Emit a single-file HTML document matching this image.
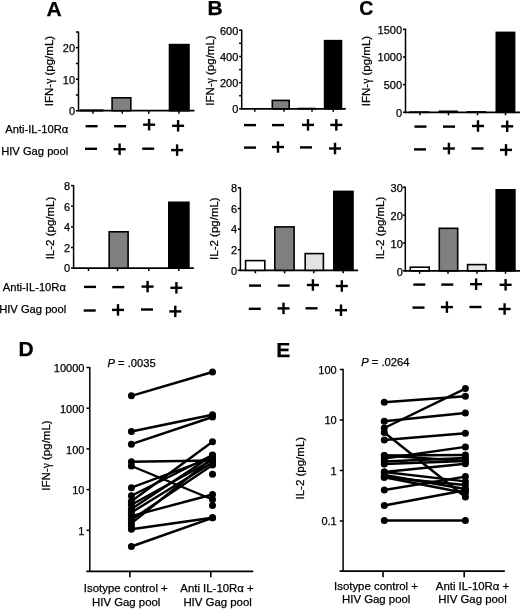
<!DOCTYPE html>
<html><head><meta charset="utf-8"><style>
html,body{margin:0;padding:0;background:#fff;}
svg{display:block;will-change:transform;}
text{font-family:"Liberation Sans", sans-serif;fill:#000;stroke:#000;stroke-width:0.25px;}
</style></head><body>
<svg width="520" height="609" viewBox="0 0 520 609">
<rect width="520" height="609" fill="#fff"/>
<text x="0" y="0" font-size="21" text-anchor="middle" font-weight="bold" transform="translate(54.1 15.8) scale(1.0 1)">A</text>
<text x="0" y="0" font-size="21" text-anchor="middle" font-weight="bold" transform="translate(215.2 14.6) scale(1.0 1)">B</text>
<text x="0" y="0" font-size="21" text-anchor="middle" font-weight="bold" transform="translate(366.4 15.4) scale(0.93 1)">C</text>
<text x="0" y="0" font-size="21" text-anchor="middle" font-weight="bold" transform="translate(26.2 355.6) scale(1.0 1)">D</text>
<text x="0" y="0" font-size="21" text-anchor="middle" font-weight="bold" transform="translate(283.2 356.7) scale(1.0 1)">E</text>
<line x1="78.5" y1="31.5" x2="78.5" y2="111.5" stroke="#000" stroke-width="1.5"/>
<line x1="77.75" y1="110.7" x2="194.5" y2="110.7" stroke="#000" stroke-width="1.8"/>
<line x1="75.9" y1="110.7" x2="78.5" y2="110.7" stroke="#000" stroke-width="1.5"/>
<text x="75.1" y="115.0" font-size="11" text-anchor="end">0</text>
<line x1="75.9" y1="79.2" x2="78.5" y2="79.2" stroke="#000" stroke-width="1.5"/>
<text x="75.1" y="83.5" font-size="11" text-anchor="end">10</text>
<line x1="75.9" y1="47.7" x2="78.5" y2="47.7" stroke="#000" stroke-width="1.5"/>
<text x="75.1" y="52.0" font-size="11" text-anchor="end">20</text>
<line x1="75.9" y1="95.0" x2="78.5" y2="95.0" stroke="#000" stroke-width="1.5"/>
<line x1="75.9" y1="63.5" x2="78.5" y2="63.5" stroke="#000" stroke-width="1.5"/>
<line x1="75.9" y1="32.0" x2="78.5" y2="32.0" stroke="#000" stroke-width="1.5"/>
<line x1="92.9" y1="110.7" x2="92.9" y2="113.7" stroke="#000" stroke-width="1.5"/>
<line x1="122.3" y1="110.7" x2="122.3" y2="113.7" stroke="#000" stroke-width="1.5"/>
<line x1="148.8" y1="110.7" x2="148.8" y2="113.7" stroke="#000" stroke-width="1.5"/>
<line x1="178.9" y1="110.7" x2="178.9" y2="113.7" stroke="#000" stroke-width="1.5"/>
<rect x="80.80" y="110.20" width="21.90" height="0.50" fill="#fff" stroke="#000" stroke-width="1.6"/>
<rect x="112.10" y="97.80" width="18.70" height="12.90" fill="#808080" stroke="#000" stroke-width="1.6"/>
<rect x="169.50" y="44.60" width="19.50" height="66.10" fill="#000" stroke="#000" stroke-width="1.6"/>
<text x="53.2" y="71.0" font-size="11.5" text-anchor="middle" transform="rotate(-90 53.2 71.0)">IFN-<tspan style="font-family:Liberation Serif">&#947;</tspan> (pg/mL)</text>
<line x1="241.7" y1="29.5" x2="241.7" y2="109.6" stroke="#000" stroke-width="1.5"/>
<line x1="240.95" y1="108.8" x2="345.8" y2="108.8" stroke="#000" stroke-width="1.8"/>
<line x1="239.1" y1="108.8" x2="241.7" y2="108.8" stroke="#000" stroke-width="1.5"/>
<text x="238.29999999999998" y="113.1" font-size="11" text-anchor="end">0</text>
<line x1="239.1" y1="82.7" x2="241.7" y2="82.7" stroke="#000" stroke-width="1.5"/>
<text x="238.29999999999998" y="87.0" font-size="11" text-anchor="end">200</text>
<line x1="239.1" y1="56.5" x2="241.7" y2="56.5" stroke="#000" stroke-width="1.5"/>
<text x="238.29999999999998" y="60.8" font-size="11" text-anchor="end">400</text>
<line x1="239.1" y1="30.2" x2="241.7" y2="30.2" stroke="#000" stroke-width="1.5"/>
<text x="238.29999999999998" y="34.5" font-size="11" text-anchor="end">600</text>
<line x1="239.1" y1="95.7" x2="241.7" y2="95.7" stroke="#000" stroke-width="1.5"/>
<line x1="239.1" y1="69.6" x2="241.7" y2="69.6" stroke="#000" stroke-width="1.5"/>
<line x1="239.1" y1="43.3" x2="241.7" y2="43.3" stroke="#000" stroke-width="1.5"/>
<line x1="254.8" y1="108.8" x2="254.8" y2="111.8" stroke="#000" stroke-width="1.5"/>
<line x1="284" y1="108.8" x2="284" y2="111.8" stroke="#000" stroke-width="1.5"/>
<line x1="312" y1="108.8" x2="312" y2="111.8" stroke="#000" stroke-width="1.5"/>
<line x1="333.3" y1="108.8" x2="333.3" y2="111.8" stroke="#000" stroke-width="1.5"/>
<rect x="272.30" y="100.40" width="16.90" height="8.40" fill="#808080" stroke="#000" stroke-width="1.6"/>
<rect x="298.80" y="108.50" width="16.40" height="0.30" fill="#fff" stroke="#000" stroke-width="1.6"/>
<rect x="324.60" y="40.65" width="16.90" height="68.15" fill="#000" stroke="#000" stroke-width="1.6"/>
<text x="214.3" y="70.5" font-size="11.5" text-anchor="middle" transform="rotate(-90 214.3 70.5)">IFN-<tspan style="font-family:Liberation Serif">&#947;</tspan> (pg/mL)</text>
<line x1="405.5" y1="28.8" x2="405.5" y2="113.1" stroke="#000" stroke-width="1.5"/>
<line x1="404.75" y1="112.3" x2="520" y2="112.3" stroke="#000" stroke-width="1.8"/>
<line x1="402.9" y1="112.3" x2="405.5" y2="112.3" stroke="#000" stroke-width="1.5"/>
<text x="402.1" y="116.6" font-size="11" text-anchor="end">0</text>
<line x1="402.9" y1="84.6" x2="405.5" y2="84.6" stroke="#000" stroke-width="1.5"/>
<text x="402.1" y="88.89999999999999" font-size="11" text-anchor="end">500</text>
<line x1="402.9" y1="57.0" x2="405.5" y2="57.0" stroke="#000" stroke-width="1.5"/>
<text x="402.1" y="61.3" font-size="11" text-anchor="end">1000</text>
<line x1="402.9" y1="29.3" x2="405.5" y2="29.3" stroke="#000" stroke-width="1.5"/>
<text x="402.1" y="33.6" font-size="11" text-anchor="end">1500</text>
<line x1="419.9" y1="112.3" x2="419.9" y2="115.3" stroke="#000" stroke-width="1.5"/>
<line x1="448.5" y1="112.3" x2="448.5" y2="115.3" stroke="#000" stroke-width="1.5"/>
<line x1="477.5" y1="112.3" x2="477.5" y2="115.3" stroke="#000" stroke-width="1.5"/>
<line x1="505.5" y1="112.3" x2="505.5" y2="115.3" stroke="#000" stroke-width="1.5"/>
<rect x="410.30" y="112.10" width="18.40" height="0.20" fill="#fff" stroke="#000" stroke-width="1.6"/>
<rect x="439.30" y="111.30" width="17.90" height="1.00" fill="#fff" stroke="#000" stroke-width="1.6"/>
<rect x="467.30" y="111.90" width="17.90" height="0.40" fill="#fff" stroke="#000" stroke-width="1.6"/>
<rect x="496.30" y="32.40" width="18.30" height="79.90" fill="#000" stroke="#000" stroke-width="1.6"/>
<text x="369.9" y="71" font-size="11.5" text-anchor="middle" transform="rotate(-90 369.9 71)">IFN-<tspan style="font-family:Liberation Serif">&#947;</tspan> (pg/mL)</text>
<line x1="73.6" y1="185.3" x2="73.6" y2="268.90000000000003" stroke="#000" stroke-width="1.5"/>
<line x1="72.85" y1="268.1" x2="193.8" y2="268.1" stroke="#000" stroke-width="1.8"/>
<line x1="71.0" y1="268.1" x2="73.6" y2="268.1" stroke="#000" stroke-width="1.5"/>
<text x="70.19999999999999" y="272.40000000000003" font-size="11" text-anchor="end">0</text>
<line x1="71.0" y1="247.5" x2="73.6" y2="247.5" stroke="#000" stroke-width="1.5"/>
<text x="70.19999999999999" y="251.8" font-size="11" text-anchor="end">2</text>
<line x1="71.0" y1="226.9" x2="73.6" y2="226.9" stroke="#000" stroke-width="1.5"/>
<text x="70.19999999999999" y="231.20000000000002" font-size="11" text-anchor="end">4</text>
<line x1="71.0" y1="206.2" x2="73.6" y2="206.2" stroke="#000" stroke-width="1.5"/>
<text x="70.19999999999999" y="210.5" font-size="11" text-anchor="end">6</text>
<line x1="71.0" y1="185.6" x2="73.6" y2="185.6" stroke="#000" stroke-width="1.5"/>
<text x="70.19999999999999" y="189.9" font-size="11" text-anchor="end">8</text>
<line x1="88.5" y1="268.1" x2="88.5" y2="271.1" stroke="#000" stroke-width="1.5"/>
<line x1="117.5" y1="268.1" x2="117.5" y2="271.1" stroke="#000" stroke-width="1.5"/>
<line x1="148.8" y1="268.1" x2="148.8" y2="271.1" stroke="#000" stroke-width="1.5"/>
<line x1="178.8" y1="268.1" x2="178.8" y2="271.1" stroke="#000" stroke-width="1.5"/>
<rect x="109.20" y="231.80" width="18.90" height="36.30" fill="#808080" stroke="#000" stroke-width="1.6"/>
<rect x="168.80" y="202.30" width="20.10" height="65.80" fill="#000" stroke="#000" stroke-width="1.6"/>
<text x="54.3" y="228" font-size="11.5" text-anchor="middle" transform="rotate(-90 54.3 228)">IL-2 (pg/mL)</text>
<line x1="240.4" y1="187.3" x2="240.4" y2="271.1" stroke="#000" stroke-width="1.5"/>
<line x1="239.65" y1="270.3" x2="358.0" y2="270.3" stroke="#000" stroke-width="1.8"/>
<line x1="237.8" y1="270.3" x2="240.4" y2="270.3" stroke="#000" stroke-width="1.5"/>
<text x="237.0" y="274.6" font-size="11" text-anchor="end">0</text>
<line x1="237.8" y1="249.7" x2="240.4" y2="249.7" stroke="#000" stroke-width="1.5"/>
<text x="237.0" y="254.0" font-size="11" text-anchor="end">2</text>
<line x1="237.8" y1="229.1" x2="240.4" y2="229.1" stroke="#000" stroke-width="1.5"/>
<text x="237.0" y="233.4" font-size="11" text-anchor="end">4</text>
<line x1="237.8" y1="208.5" x2="240.4" y2="208.5" stroke="#000" stroke-width="1.5"/>
<text x="237.0" y="212.8" font-size="11" text-anchor="end">6</text>
<line x1="237.8" y1="187.8" x2="240.4" y2="187.8" stroke="#000" stroke-width="1.5"/>
<text x="237.0" y="192.10000000000002" font-size="11" text-anchor="end">8</text>
<line x1="255.4" y1="270.3" x2="255.4" y2="273.3" stroke="#000" stroke-width="1.5"/>
<line x1="284.6" y1="270.3" x2="284.6" y2="273.3" stroke="#000" stroke-width="1.5"/>
<line x1="313.8" y1="270.3" x2="313.8" y2="273.3" stroke="#000" stroke-width="1.5"/>
<line x1="343.2" y1="270.3" x2="343.2" y2="273.3" stroke="#000" stroke-width="1.5"/>
<rect x="245.60" y="260.60" width="19.20" height="9.70" fill="#fff" stroke="#000" stroke-width="1.6"/>
<rect x="274.80" y="226.90" width="19.30" height="43.40" fill="#808080" stroke="#000" stroke-width="1.6"/>
<rect x="305.20" y="253.60" width="18.20" height="16.70" fill="#e4e4e4" stroke="#000" stroke-width="1.6"/>
<rect x="333.80" y="191.40" width="19.20" height="78.90" fill="#000" stroke="#000" stroke-width="1.6"/>
<text x="218.0" y="228.6" font-size="11.5" text-anchor="middle" transform="rotate(-90 218.0 228.6)">IL-2 (pg/mL)</text>
<line x1="405.3" y1="186.5" x2="405.3" y2="271.6" stroke="#000" stroke-width="1.5"/>
<line x1="404.55" y1="270.8" x2="520" y2="270.8" stroke="#000" stroke-width="1.8"/>
<line x1="402.7" y1="270.8" x2="405.3" y2="270.8" stroke="#000" stroke-width="1.5"/>
<text x="402.8" y="275.5" font-size="11" text-anchor="end">0</text>
<line x1="402.7" y1="243" x2="405.3" y2="243" stroke="#000" stroke-width="1.5"/>
<text x="402.8" y="247.70000000000002" font-size="11" text-anchor="end">10</text>
<line x1="402.7" y1="215.1" x2="405.3" y2="215.1" stroke="#000" stroke-width="1.5"/>
<text x="402.8" y="219.8" font-size="11" text-anchor="end">20</text>
<line x1="402.7" y1="187.3" x2="405.3" y2="187.3" stroke="#000" stroke-width="1.5"/>
<text x="402.8" y="192.00000000000003" font-size="11" text-anchor="end">30</text>
<line x1="419.6" y1="270.8" x2="419.6" y2="273.8" stroke="#000" stroke-width="1.5"/>
<line x1="448" y1="270.8" x2="448" y2="273.8" stroke="#000" stroke-width="1.5"/>
<line x1="477" y1="270.8" x2="477" y2="273.8" stroke="#000" stroke-width="1.5"/>
<line x1="505.5" y1="270.8" x2="505.5" y2="273.8" stroke="#000" stroke-width="1.5"/>
<rect x="410.30" y="267.20" width="18.90" height="3.60" fill="#fff" stroke="#000" stroke-width="1.6"/>
<rect x="439.30" y="228.30" width="18.40" height="42.50" fill="#808080" stroke="#000" stroke-width="1.6"/>
<rect x="467.60" y="264.60" width="18.40" height="6.20" fill="#e4e4e4" stroke="#000" stroke-width="1.6"/>
<rect x="496.20" y="189.80" width="18.70" height="81.00" fill="#000" stroke="#000" stroke-width="1.6"/>
<text x="383.7" y="228.0" font-size="11.5" text-anchor="middle" transform="rotate(-90 383.7 228.0)">IL-2 (pg/mL)</text>
<rect x="85.60" y="125.00" width="12" height="2.4" fill="#000"/>
<rect x="114.10" y="125.00" width="12" height="2.4" fill="#000"/>
<rect x="143.10" y="123.50" width="12" height="2.4" fill="#000"/>
<rect x="147.90" y="118.95" width="2.4" height="11.5" fill="#000"/>
<rect x="172.10" y="124.60" width="12" height="2.4" fill="#000"/>
<rect x="176.90" y="120.05" width="2.4" height="11.5" fill="#000"/>
<rect x="85.00" y="147.60" width="12" height="2.4" fill="#000"/>
<rect x="113.60" y="148.00" width="12" height="2.4" fill="#000"/>
<rect x="118.40" y="143.45" width="2.4" height="11.5" fill="#000"/>
<rect x="142.20" y="147.50" width="12" height="2.4" fill="#000"/>
<rect x="171.10" y="148.90" width="12" height="2.4" fill="#000"/>
<rect x="175.90" y="144.35" width="2.4" height="11.5" fill="#000"/>
<rect x="244.00" y="123.90" width="12" height="2.4" fill="#000"/>
<rect x="272.00" y="123.90" width="12" height="2.4" fill="#000"/>
<rect x="302.00" y="123.70" width="12" height="2.4" fill="#000"/>
<rect x="306.80" y="119.15" width="2.4" height="11.5" fill="#000"/>
<rect x="330.30" y="123.70" width="12" height="2.4" fill="#000"/>
<rect x="335.10" y="119.15" width="2.4" height="11.5" fill="#000"/>
<rect x="244.00" y="146.40" width="12" height="2.4" fill="#000"/>
<rect x="272.00" y="145.80" width="12" height="2.4" fill="#000"/>
<rect x="276.80" y="141.25" width="2.4" height="11.5" fill="#000"/>
<rect x="300.00" y="146.20" width="12" height="2.4" fill="#000"/>
<rect x="329.00" y="147.30" width="12" height="2.4" fill="#000"/>
<rect x="333.80" y="142.75" width="2.4" height="11.5" fill="#000"/>
<rect x="414.50" y="125.40" width="12" height="2.4" fill="#000"/>
<rect x="443.00" y="125.40" width="12" height="2.4" fill="#000"/>
<rect x="472.00" y="124.80" width="12" height="2.4" fill="#000"/>
<rect x="476.80" y="120.25" width="2.4" height="11.5" fill="#000"/>
<rect x="501.20" y="125.10" width="12" height="2.4" fill="#000"/>
<rect x="506.00" y="120.55" width="2.4" height="11.5" fill="#000"/>
<rect x="414.00" y="148.20" width="12" height="2.4" fill="#000"/>
<rect x="442.90" y="147.30" width="12" height="2.4" fill="#000"/>
<rect x="447.70" y="142.75" width="2.4" height="11.5" fill="#000"/>
<rect x="471.50" y="147.30" width="12" height="2.4" fill="#000"/>
<rect x="500.00" y="148.70" width="12" height="2.4" fill="#000"/>
<rect x="504.80" y="144.15" width="2.4" height="11.5" fill="#000"/>
<rect x="84.00" y="285.70" width="12" height="2.4" fill="#000"/>
<rect x="112.30" y="285.90" width="12" height="2.4" fill="#000"/>
<rect x="141.60" y="285.40" width="12" height="2.4" fill="#000"/>
<rect x="146.40" y="280.85" width="2.4" height="11.5" fill="#000"/>
<rect x="170.40" y="286.60" width="12" height="2.4" fill="#000"/>
<rect x="175.20" y="282.05" width="2.4" height="11.5" fill="#000"/>
<rect x="83.70" y="309.30" width="12" height="2.4" fill="#000"/>
<rect x="112.00" y="308.70" width="12" height="2.4" fill="#000"/>
<rect x="116.80" y="304.15" width="2.4" height="11.5" fill="#000"/>
<rect x="141.00" y="308.30" width="12" height="2.4" fill="#000"/>
<rect x="169.30" y="310.20" width="12" height="2.4" fill="#000"/>
<rect x="174.10" y="305.65" width="2.4" height="11.5" fill="#000"/>
<rect x="249.00" y="284.40" width="12" height="2.4" fill="#000"/>
<rect x="277.80" y="284.40" width="12" height="2.4" fill="#000"/>
<rect x="306.90" y="283.80" width="12" height="2.4" fill="#000"/>
<rect x="311.70" y="279.25" width="2.4" height="11.5" fill="#000"/>
<rect x="335.80" y="284.80" width="12" height="2.4" fill="#000"/>
<rect x="340.60" y="280.25" width="2.4" height="11.5" fill="#000"/>
<rect x="248.80" y="307.60" width="12" height="2.4" fill="#000"/>
<rect x="277.50" y="307.20" width="12" height="2.4" fill="#000"/>
<rect x="282.30" y="302.65" width="2.4" height="11.5" fill="#000"/>
<rect x="305.50" y="307.10" width="12" height="2.4" fill="#000"/>
<rect x="335.00" y="309.00" width="12" height="2.4" fill="#000"/>
<rect x="339.80" y="304.45" width="2.4" height="11.5" fill="#000"/>
<rect x="413.30" y="283.40" width="12" height="2.4" fill="#000"/>
<rect x="441.30" y="283.40" width="12" height="2.4" fill="#000"/>
<rect x="470.10" y="283.00" width="12" height="2.4" fill="#000"/>
<rect x="474.90" y="278.45" width="2.4" height="11.5" fill="#000"/>
<rect x="499.60" y="283.60" width="12" height="2.4" fill="#000"/>
<rect x="504.40" y="279.05" width="2.4" height="11.5" fill="#000"/>
<rect x="412.50" y="306.40" width="12" height="2.4" fill="#000"/>
<rect x="440.90" y="305.90" width="12" height="2.4" fill="#000"/>
<rect x="445.70" y="301.35" width="2.4" height="11.5" fill="#000"/>
<rect x="469.50" y="305.80" width="12" height="2.4" fill="#000"/>
<rect x="498.60" y="307.80" width="12" height="2.4" fill="#000"/>
<rect x="503.40" y="303.25" width="2.4" height="11.5" fill="#000"/>
<text x="68.3" y="133.4" font-size="11.2" text-anchor="end">Anti-IL-10R&#945;</text>
<text x="68.3" y="154.6" font-size="11.2" text-anchor="end">HIV Gag pool</text>
<text x="65.9" y="291.4" font-size="11.2" text-anchor="end">Anti-IL-10R&#945;</text>
<text x="66.3" y="313.4" font-size="11.2" text-anchor="end">HIV Gag pool</text>
<line x1="89.8" y1="367" x2="89.8" y2="572.0999999999999" stroke="#000" stroke-width="1.5"/>
<line x1="86.3" y1="571.3" x2="253.2" y2="571.3" stroke="#000" stroke-width="1.8"/>
<line x1="86.5" y1="367.5" x2="89.8" y2="367.5" stroke="#000" stroke-width="1.5"/>
<text x="84.39999999999999" y="372.2" font-size="11" text-anchor="end">10000</text>
<line x1="86.5" y1="408.2" x2="89.8" y2="408.2" stroke="#000" stroke-width="1.5"/>
<text x="84.39999999999999" y="412.9" font-size="11" text-anchor="end">1000</text>
<line x1="86.5" y1="448.9" x2="89.8" y2="448.9" stroke="#000" stroke-width="1.5"/>
<text x="84.39999999999999" y="453.59999999999997" font-size="11" text-anchor="end">100</text>
<line x1="86.5" y1="489.6" x2="89.8" y2="489.6" stroke="#000" stroke-width="1.5"/>
<text x="84.39999999999999" y="494.3" font-size="11" text-anchor="end">10</text>
<line x1="86.5" y1="530.3" x2="89.8" y2="530.3" stroke="#000" stroke-width="1.5"/>
<text x="84.39999999999999" y="535.0" font-size="11" text-anchor="end">1</text>
<line x1="129.9" y1="571.3" x2="129.9" y2="577.3" stroke="#000" stroke-width="1.6"/>
<line x1="210.8" y1="571.3" x2="210.8" y2="577.3" stroke="#000" stroke-width="1.6"/>
<line x1="131.4" y1="395.8" x2="212.5" y2="372" stroke="#000" stroke-width="2.4"/>
<line x1="131.4" y1="431.5" x2="212.5" y2="414.7" stroke="#000" stroke-width="2.4"/>
<line x1="131.4" y1="444.2" x2="212.5" y2="417" stroke="#000" stroke-width="2.4"/>
<line x1="131.4" y1="461.8" x2="212.5" y2="460.5" stroke="#000" stroke-width="2.4"/>
<line x1="131.4" y1="466" x2="212.5" y2="499.5" stroke="#000" stroke-width="2.4"/>
<line x1="131.4" y1="487.7" x2="212.5" y2="457.5" stroke="#000" stroke-width="2.4"/>
<line x1="131.4" y1="495.8" x2="212.5" y2="455" stroke="#000" stroke-width="2.4"/>
<line x1="131.4" y1="501.2" x2="212.5" y2="441.8" stroke="#000" stroke-width="2.4"/>
<line x1="131.4" y1="504.8" x2="212.5" y2="460" stroke="#000" stroke-width="2.4"/>
<line x1="131.4" y1="508.9" x2="212.5" y2="455.5" stroke="#000" stroke-width="2.4"/>
<line x1="131.4" y1="512.5" x2="212.5" y2="462.5" stroke="#000" stroke-width="2.4"/>
<line x1="131.4" y1="516.1" x2="212.5" y2="494.5" stroke="#000" stroke-width="2.4"/>
<line x1="131.4" y1="519.7" x2="212.5" y2="465" stroke="#000" stroke-width="2.4"/>
<line x1="131.4" y1="523.4" x2="212.5" y2="458" stroke="#000" stroke-width="2.4"/>
<line x1="131.4" y1="529.2" x2="212.5" y2="517.8" stroke="#000" stroke-width="2.4"/>
<line x1="131.4" y1="546.5" x2="212.5" y2="517.8" stroke="#000" stroke-width="2.4"/>
<circle cx="212.5" cy="474.2" r="3.5" fill="#000"/>
<circle cx="212.5" cy="505.5" r="3.5" fill="#000"/>
<circle cx="131.4" cy="526.5" r="3.5" fill="#000"/>
<circle cx="131.4" cy="395.8" r="3.5" fill="#000"/>
<circle cx="212.5" cy="372" r="3.5" fill="#000"/>
<circle cx="131.4" cy="431.5" r="3.5" fill="#000"/>
<circle cx="212.5" cy="414.7" r="3.5" fill="#000"/>
<circle cx="131.4" cy="444.2" r="3.5" fill="#000"/>
<circle cx="212.5" cy="417" r="3.5" fill="#000"/>
<circle cx="131.4" cy="461.8" r="3.5" fill="#000"/>
<circle cx="212.5" cy="460.5" r="3.5" fill="#000"/>
<circle cx="131.4" cy="466" r="3.5" fill="#000"/>
<circle cx="212.5" cy="499.5" r="3.5" fill="#000"/>
<circle cx="131.4" cy="487.7" r="3.5" fill="#000"/>
<circle cx="212.5" cy="457.5" r="3.5" fill="#000"/>
<circle cx="131.4" cy="495.8" r="3.5" fill="#000"/>
<circle cx="212.5" cy="455" r="3.5" fill="#000"/>
<circle cx="131.4" cy="501.2" r="3.5" fill="#000"/>
<circle cx="212.5" cy="441.8" r="3.5" fill="#000"/>
<circle cx="131.4" cy="504.8" r="3.5" fill="#000"/>
<circle cx="212.5" cy="460" r="3.5" fill="#000"/>
<circle cx="131.4" cy="508.9" r="3.5" fill="#000"/>
<circle cx="212.5" cy="455.5" r="3.5" fill="#000"/>
<circle cx="131.4" cy="512.5" r="3.5" fill="#000"/>
<circle cx="212.5" cy="462.5" r="3.5" fill="#000"/>
<circle cx="131.4" cy="516.1" r="3.5" fill="#000"/>
<circle cx="212.5" cy="494.5" r="3.5" fill="#000"/>
<circle cx="131.4" cy="519.7" r="3.5" fill="#000"/>
<circle cx="212.5" cy="465" r="3.5" fill="#000"/>
<circle cx="131.4" cy="523.4" r="3.5" fill="#000"/>
<circle cx="212.5" cy="458" r="3.5" fill="#000"/>
<circle cx="131.4" cy="529.2" r="3.5" fill="#000"/>
<circle cx="212.5" cy="517.8" r="3.5" fill="#000"/>
<circle cx="131.4" cy="546.5" r="3.5" fill="#000"/>
<circle cx="212.5" cy="517.8" r="3.5" fill="#000"/>
<text x="50.0" y="455.5" font-size="11.5" text-anchor="middle" transform="rotate(-90 50.0 455.5)">IFN-<tspan style="font-family:Liberation Serif">&#947;</tspan> (pg/mL)</text>
<text x="107.5" y="366.5" font-size="11.2"><tspan font-style="italic">P</tspan> = .0035</text>
<text x="125.8" y="592" font-size="11.4" text-anchor="middle">Isotype control +</text>
<text x="126.2" y="605.8" font-size="11.4" text-anchor="middle">HIV Gag pool</text>
<text x="217" y="592" font-size="11.4" text-anchor="middle">Anti IL-10R&#945; +</text>
<text x="217.6" y="605.8" font-size="11.4" text-anchor="middle">HIV Gag pool</text>
<line x1="343.1" y1="368.8" x2="343.1" y2="572.0" stroke="#000" stroke-width="1.5"/>
<line x1="339.6" y1="571.2" x2="504.8" y2="571.2" stroke="#000" stroke-width="1.8"/>
<line x1="339.8" y1="369.5" x2="343.1" y2="369.5" stroke="#000" stroke-width="1.5"/>
<text x="336.70000000000005" y="373.7" font-size="11" text-anchor="end">100</text>
<line x1="339.8" y1="420" x2="343.1" y2="420" stroke="#000" stroke-width="1.5"/>
<text x="336.70000000000005" y="424.2" font-size="11" text-anchor="end">10</text>
<line x1="339.8" y1="470.5" x2="343.1" y2="470.5" stroke="#000" stroke-width="1.5"/>
<text x="336.70000000000005" y="474.7" font-size="11" text-anchor="end">1</text>
<line x1="339.8" y1="521" x2="343.1" y2="521" stroke="#000" stroke-width="1.5"/>
<text x="336.70000000000005" y="525.2" font-size="11" text-anchor="end">0.1</text>
<line x1="383.0" y1="571.2" x2="383.0" y2="577.2" stroke="#000" stroke-width="1.6"/>
<line x1="464.2" y1="571.2" x2="464.2" y2="577.2" stroke="#000" stroke-width="1.6"/>
<line x1="384.3" y1="402.2" x2="465.4" y2="396.2" stroke="#000" stroke-width="2.4"/>
<line x1="384.3" y1="421.2" x2="465.4" y2="413" stroke="#000" stroke-width="2.4"/>
<line x1="384.3" y1="428" x2="465.4" y2="388.6" stroke="#000" stroke-width="2.4"/>
<line x1="384.3" y1="432.5" x2="465.4" y2="497" stroke="#000" stroke-width="2.4"/>
<line x1="384.3" y1="440" x2="465.4" y2="433.3" stroke="#000" stroke-width="2.4"/>
<line x1="384.3" y1="458.5" x2="465.4" y2="446.9" stroke="#000" stroke-width="2.4"/>
<line x1="384.3" y1="455.5" x2="465.4" y2="455" stroke="#000" stroke-width="2.4"/>
<line x1="384.3" y1="461.5" x2="465.4" y2="458" stroke="#000" stroke-width="2.4"/>
<line x1="384.3" y1="464" x2="465.4" y2="461" stroke="#000" stroke-width="2.4"/>
<line x1="384.3" y1="472" x2="465.4" y2="463.7" stroke="#000" stroke-width="2.4"/>
<line x1="384.3" y1="472" x2="465.4" y2="481.4" stroke="#000" stroke-width="2.4"/>
<line x1="384.3" y1="477.3" x2="465.4" y2="485" stroke="#000" stroke-width="2.4"/>
<line x1="384.3" y1="490" x2="465.4" y2="476.6" stroke="#000" stroke-width="2.4"/>
<line x1="384.3" y1="505.5" x2="465.4" y2="490.2" stroke="#000" stroke-width="2.4"/>
<line x1="384.3" y1="520.5" x2="465.4" y2="520.5" stroke="#000" stroke-width="2.4"/>
<line x1="384.3" y1="475" x2="465.4" y2="489" stroke="#000" stroke-width="2.4"/>
<line x1="384.3" y1="477.3" x2="465.4" y2="493" stroke="#000" stroke-width="2.4"/>
<line x1="384.3" y1="455.5" x2="465.4" y2="461" stroke="#000" stroke-width="2.4"/>
<circle cx="384.3" cy="402.2" r="3.5" fill="#000"/>
<circle cx="465.4" cy="396.2" r="3.5" fill="#000"/>
<circle cx="384.3" cy="421.2" r="3.5" fill="#000"/>
<circle cx="465.4" cy="413" r="3.5" fill="#000"/>
<circle cx="384.3" cy="428" r="3.5" fill="#000"/>
<circle cx="465.4" cy="388.6" r="3.5" fill="#000"/>
<circle cx="384.3" cy="432.5" r="3.5" fill="#000"/>
<circle cx="465.4" cy="497" r="3.5" fill="#000"/>
<circle cx="384.3" cy="440" r="3.5" fill="#000"/>
<circle cx="465.4" cy="433.3" r="3.5" fill="#000"/>
<circle cx="384.3" cy="458.5" r="3.5" fill="#000"/>
<circle cx="465.4" cy="446.9" r="3.5" fill="#000"/>
<circle cx="384.3" cy="455.5" r="3.5" fill="#000"/>
<circle cx="465.4" cy="455" r="3.5" fill="#000"/>
<circle cx="384.3" cy="461.5" r="3.5" fill="#000"/>
<circle cx="465.4" cy="458" r="3.5" fill="#000"/>
<circle cx="384.3" cy="464" r="3.5" fill="#000"/>
<circle cx="465.4" cy="461" r="3.5" fill="#000"/>
<circle cx="384.3" cy="472" r="3.5" fill="#000"/>
<circle cx="465.4" cy="463.7" r="3.5" fill="#000"/>
<circle cx="384.3" cy="472" r="3.5" fill="#000"/>
<circle cx="465.4" cy="481.4" r="3.5" fill="#000"/>
<circle cx="384.3" cy="477.3" r="3.5" fill="#000"/>
<circle cx="465.4" cy="485" r="3.5" fill="#000"/>
<circle cx="384.3" cy="490" r="3.5" fill="#000"/>
<circle cx="465.4" cy="476.6" r="3.5" fill="#000"/>
<circle cx="384.3" cy="505.5" r="3.5" fill="#000"/>
<circle cx="465.4" cy="490.2" r="3.5" fill="#000"/>
<circle cx="384.3" cy="520.5" r="3.5" fill="#000"/>
<circle cx="465.4" cy="520.5" r="3.5" fill="#000"/>
<circle cx="384.3" cy="475" r="3.5" fill="#000"/>
<circle cx="465.4" cy="489" r="3.5" fill="#000"/>
<circle cx="384.3" cy="477.3" r="3.5" fill="#000"/>
<circle cx="465.4" cy="493" r="3.5" fill="#000"/>
<circle cx="384.3" cy="455.5" r="3.5" fill="#000"/>
<circle cx="465.4" cy="461" r="3.5" fill="#000"/>
<text x="304.5" y="468.2" font-size="11.5" text-anchor="middle" transform="rotate(-90 304.5 468.2)">IL-2 (pg/mL)</text>
<text x="361.3" y="366" font-size="11.2"><tspan font-style="italic">P</tspan> = .0264</text>
<text x="376" y="590" font-size="11.4" text-anchor="middle">Isotype control +</text>
<text x="376.2" y="602.8" font-size="11.4" text-anchor="middle">HIV Gag pool</text>
<text x="472.5" y="590" font-size="11.4" text-anchor="middle">Anti IL-10R&#945; +</text>
<text x="472.5" y="602.8" font-size="11.4" text-anchor="middle">HIV Gag pool</text>
</svg>
</body></html>
